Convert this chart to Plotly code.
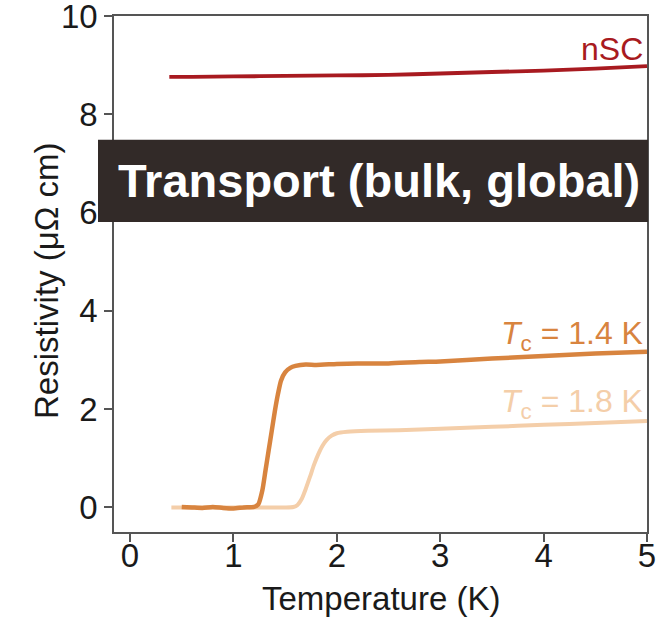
import plotly.graph_objects as go

# Temperature (K) and resistivity (µΩ cm) readings for the three samples
t_nsc = [0.38, 0.60, 1.00, 1.50, 2.00, 2.50, 3.00, 3.50, 4.00, 4.50, 5.00]
rho_nsc = [8.76, 8.76, 8.77, 8.78, 8.79, 8.80, 8.83, 8.86, 8.89, 8.93, 8.98]

t_14 = [0.50, 0.60, 0.70, 0.80, 0.90, 1.00, 1.10, 1.20, 1.24, 1.28, 1.31, 1.34,
        1.37, 1.40, 1.43, 1.46, 1.50, 1.55, 1.60, 1.70, 1.80, 2.00, 2.20, 2.50,
        2.80, 3.00, 3.50, 4.00, 4.50, 5.00]
rho_14 = [0.01, 0.00, -0.01, 0.01, -0.01, -0.02, 0.00, 0.01, 0.06, 0.35, 0.75, 1.15,
          1.55, 1.95, 2.30, 2.58, 2.75, 2.84, 2.88, 2.91, 2.90, 2.92, 2.93, 2.93,
          2.96, 2.97, 3.03, 3.08, 3.13, 3.17]

t_18 = [0.40, 0.80, 1.20, 1.50, 1.58, 1.62, 1.66, 1.70, 1.74, 1.78, 1.82, 1.86,
        1.90, 1.95, 2.00, 2.10, 2.30, 2.60, 3.00, 3.50, 4.00, 4.50, 5.00]
rho_18 = [0.00, 0.00, 0.00, 0.00, 0.01, 0.05, 0.17, 0.38, 0.62, 0.87, 1.08, 1.25,
          1.37, 1.46, 1.51, 1.54, 1.56, 1.57, 1.60, 1.64, 1.68, 1.72, 1.76]

x_ticks = [0, 1, 2, 3, 4, 5]
y_ticks = [0, 2, 4, 6, 8, 10]

RED = "#a81a20"
ORANGE = "#d8843f"
PEACH = "#f4cea9"
INK = "#1a1a1a"
FONT = "Liberation Sans, Arial, sans-serif"

fig = go.Figure()
fig.add_trace(go.Scatter(x=t_18, y=rho_18, mode="lines",
                         line=dict(color=PEACH, width=4, shape="spline", smoothing=0.6)))
fig.add_trace(go.Scatter(x=t_14, y=rho_14, mode="lines",
                         line=dict(color=ORANGE, width=4.5, shape="spline", smoothing=0.6)))
fig.add_trace(go.Scatter(x=t_nsc, y=rho_nsc, mode="lines",
                         line=dict(color=RED, width=3.8, shape="spline", smoothing=0.6)))

axis_common = dict(
    showline=True, linecolor="#555555", linewidth=1.6, mirror=True,
    ticks="outside", ticklen=8, tickwidth=1.5, tickcolor="#555555",
    showgrid=False, zeroline=False, ticklabeloverflow="allow", automargin=False,
    tickfont=dict(family=FONT, size=33, color=INK),
)

fig.update_xaxes(range=[-0.155, 5], tickvals=x_ticks, ticklabelstandoff=-14, **axis_common)
fig.update_yaxes(range=[-0.5, 10], tickvals=y_ticks, **axis_common)

# Axis titles
fig.add_annotation(xref="paper", yref="paper", x=0.501, y=-0.128,
                   text="Temperature (K)", showarrow=False,
                   xanchor="center", yanchor="middle",
                   font=dict(family=FONT, size=33, color=INK))
fig.add_annotation(xref="paper", yref="paper", x=-0.128, y=0.488,
                   text="Resistivity (μΩ cm)", showarrow=False, textangle=-90,
                   xanchor="center", yanchor="middle",
                   font=dict(family=FONT, size=33, color=INK))

# Dark banner across the upper part of the panel
fig.add_shape(type="rect", xref="paper", yref="paper",
              x0=-0.030, x1=1.002, y0=0.601, y1=0.760,
              fillcolor="#322a28", line=dict(width=0), layer="above")
fig.add_annotation(xref="paper", yref="paper", x=0.497, y=0.681,
                   text="<b>Transport (bulk, global)</b>", showarrow=False,
                   xanchor="center", yanchor="middle",
                   font=dict(family=FONT, size=47, color="white"))

# Curve labels
labels = [
    ("nSC", 9.33, RED),
    ("<i>T</i><sub>c</sub> = 1.4 K", 3.5, ORANGE),
    ("<i>T</i><sub>c</sub> = 1.8 K", 2.12, PEACH),
]
for text, yv, col in labels:
    fig.add_annotation(x=5, y=yv, xref="x", yref="y", text=text, showarrow=False,
                       xanchor="right", yanchor="middle", xshift=-2,
                       font=dict(family=FONT, size=32, color=col))

fig.update_layout(
    width=658, height=619,
    margin=dict(l=114, r=11, t=16, b=87),
    paper_bgcolor="white", plot_bgcolor="white",
    showlegend=False,
)

fig.write_html("out.html")
